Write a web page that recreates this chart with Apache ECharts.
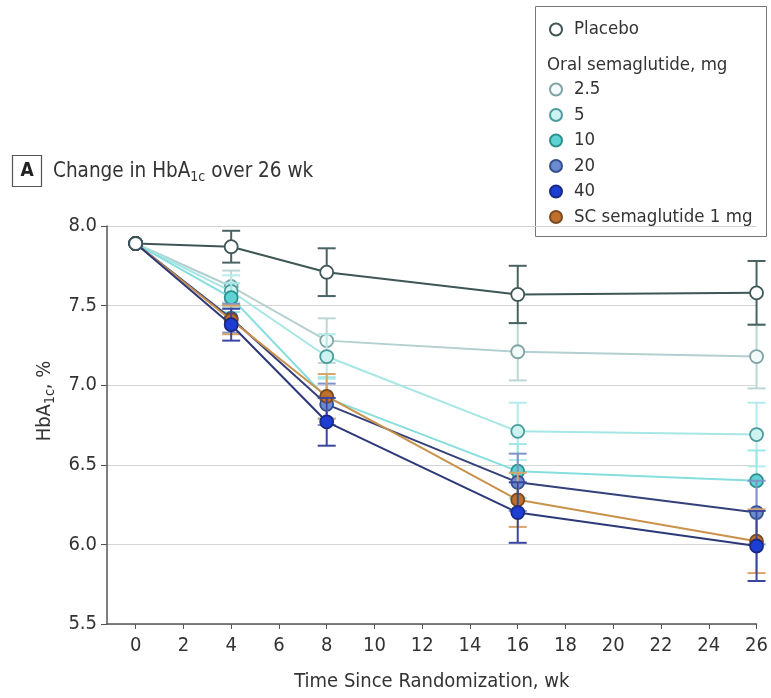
<!DOCTYPE html>
<html>
<head>
<meta charset="utf-8">
<script src="https://cdn.jsdelivr.net/npm/echarts@6/dist/echarts.min.js"></script>
<style>
  html, body { margin: 0; padding: 0; background: #fff; }
  #chart { width: 771px; height: 698px; }
</style>
</head>
<body>
<div id="chart"></div>
<script>
// weeks since randomization
const weeks = [0, 4, 8, 16, 26]
const xTicks = [0, 2, 4, 6, 8, 10, 12, 14, 16, 18, 20, 22, 24, 26]

// HbA1c (%) per group
const placebo = [7.89, 7.87, 7.71, 7.57, 7.58]
const oral2_5 = [7.89, 7.62, 7.28, 7.21, 7.18]
const oral5 = [7.89, 7.59, 7.18, 6.71, 6.69]
const oral10 = [7.89, 7.55, 6.92, 6.46, 6.40]
const oral20 = [7.89, 7.42, 6.88, 6.39, 6.20]
const oral40 = [7.89, 7.38, 6.77, 6.20, 5.99]
const scSema = [7.89, 7.41, 6.93, 6.28, 6.02]

// half width of the error bars
const placeboErr = [0, 0.10, 0.15, 0.18, 0.20]
const oral2_5Err = [0, 0.10, 0.14, 0.18, 0.20]
const oral5Err = [0, 0.10, 0.14, 0.18, 0.20]
const oral10Err = [0, 0.09, 0.13, 0.17, 0.19]
const oral20Err = [0, 0.09, 0.13, 0.18, 0.20]
const oral40Err = [0, 0.10, 0.15, 0.19, 0.22]
const scSemaErr = [0, 0.09, 0.14, 0.17, 0.20]

const FONT = "'Liberation Sans Narrow', 'DejaVu Sans Condensed', 'Roboto', sans-serif"

// drawing order: later entries sit on top, placebo last so the week 0 dot is white
const groups = [
  { name: '2.5', values: oral2_5, err: oral2_5Err, line: '#b3cfcf', fill: '#f2fafa', border: '#7fa3a3', bar: '#bcd6d6' },
  { name: '5', values: oral5, err: oral5Err, line: '#a6e6e4', fill: '#cdf3f1', border: '#4a9c9c', bar: '#b3ecea' },
  { name: '10', values: oral10, err: oral10Err, line: '#86dede', fill: '#5fd3d3', border: '#2f8f8f', bar: '#9fe6e6' },
  { name: '20', values: oral20, err: oral20Err, line: '#34407a', fill: '#6a8bcf', border: '#34508f', bar: '#7f93c8' },
  { name: 'SC semaglutide 1 mg', values: scSema, err: scSemaErr, line: '#c9914a', fill: '#c0702a', border: '#7a4a22', bar: '#d8a56a' },
  { name: '40', values: oral40, err: oral40Err, line: '#2c3878', fill: '#1c3ed4', border: '#1b2a80', bar: '#3a47a0' },
  { name: 'Placebo', values: placebo, err: placeboErr, line: '#3f5656', fill: '#ffffff', border: '#3f5656', bar: '#4a6262' }
]

function errorBar(params, api) {
  const x = api.value(0)
  const y = api.value(1)
  const e = api.value(2)
  if (!e) return null
  const top = api.coord([x, y + e])
  const bot = api.coord([x, y - e])
  const cap = 9
  const style = { stroke: api.visual('color'), lineWidth: 2 }
  return {
    type: 'group',
    children: [
      { type: 'line', shape: { x1: top[0], y1: top[1], x2: bot[0], y2: bot[1] }, style },
      { type: 'line', shape: { x1: top[0] - cap, y1: top[1], x2: top[0] + cap, y2: top[1] }, style },
      { type: 'line', shape: { x1: bot[0] - cap, y1: bot[1], x2: bot[0] + cap, y2: bot[1] }, style }
    ]
  }
}

const series = []
groups.forEach((g, gi) => {
  series.push({
    name: g.name + ' err',
    type: 'custom',
    renderItem: errorBar,
    itemStyle: { color: g.bar },
    data: weeks.map((w, i) => [w, g.values[i], g.err[i]]),
    encode: { x: 0, y: 1 },
    z: 2 + gi * 2,
    silent: true
  })
  series.push({
    name: g.name,
    type: 'line',
    data: weeks.map((w, i) => [w, g.values[i]]),
    symbol: 'circle',
    symbolSize: 13,
    showAllSymbol: true,
    lineStyle: { color: g.line, width: 2 },
    itemStyle: { color: g.fill, borderColor: g.border, borderWidth: 1.8 },
    z: 3 + gi * 2
  })
})

const legendText = { fontSize: 18.5, color: '#333', fontFamily: FONT, padding: [0, 0, 0, 7] }

const chart = echarts.init(document.getElementById('chart'))
chart.setOption({
  animation: false,
  backgroundColor: '#fff',
  textStyle: { fontFamily: FONT },
  grid: { left: 107, top: 226, width: 653, height: 398, containLabel: false },
  xAxis: {
    type: 'value',
    min: -1.2,
    max: 26,
    axisLine: { show: true, onZero: false, lineStyle: { color: '#555', width: 1.5 } },
    axisTick: { show: true, customValues: xTicks, length: 5, lineStyle: { color: '#555' } },
    axisLabel: { customValues: xTicks, color: '#333', fontSize: 20, margin: 12, fontFamily: FONT },
    splitLine: { show: false },
    name: 'Time Since Randomization, wk',
    nameLocation: 'middle',
    nameGap: 48,
    nameTextStyle: { color: '#333', fontSize: 20, fontFamily: FONT }
  },
  yAxis: {
    type: 'value',
    min: 5.5,
    max: 8,
    interval: 0.5,
    axisLine: { show: true, onZero: false, lineStyle: { color: '#555', width: 1.5 } },
    axisTick: { show: true, length: 6, lineStyle: { color: '#555' } },
    axisLabel: { color: '#333', fontSize: 20, margin: 10, fontFamily: FONT, formatter: v => v.toFixed(1) },
    splitLine: { show: true, lineStyle: { color: '#d4d4d4', width: 1 } }
  },
  legend: [
    {
      data: ['Placebo'],
      left: 544,
      top: 15,
      icon: 'circle',
      itemWidth: 12,
      itemHeight: 12,
      textStyle: legendText,
      selectedMode: false
    },
    {
      data: ['2.5', '5', '10', '20', '40', 'SC semaglutide 1 mg'],
      orient: 'vertical',
      left: 544,
      top: 75,
      icon: 'circle',
      itemWidth: 12,
      itemHeight: 12,
      itemGap: 6.5,
      textStyle: legendText,
      selectedMode: false
    }
  ],
  graphic: [
    { type: 'rect', shape: { x: 535.5, y: 6.5, width: 231, height: 230 }, style: { fill: 'none', stroke: '#777', lineWidth: 1 } },
    { type: 'text', x: 547, y: 65, style: { text: 'Oral semaglutide, mg', fontSize: 18.5, fill: '#333', fontFamily: FONT, verticalAlign: 'middle' } },
    { type: 'rect', shape: { x: 12.5, y: 155.5, width: 29, height: 31 }, style: { fill: '#fff', stroke: '#555', lineWidth: 1.2 } },
    { type: 'text', x: 27, y: 171, style: { text: 'A', fontSize: 19, fontWeight: 'bold', fill: '#222', fontFamily: FONT, align: 'center', verticalAlign: 'middle' } },
    {
      type: 'text', x: 53, y: 172,
      style: {
        text: 'Change in HbA{s|1c} over 26 wk',
        fontSize: 20.5, fill: '#333', fontFamily: FONT, verticalAlign: 'middle',
        rich: { s: { fontSize: 14, fill: '#333', fontFamily: FONT, padding: [11, 0, 0, 0] } }
      }
    },
    {
      type: 'text', x: 45, y: 401, rotation: Math.PI / 2,
      style: {
        text: 'HbA{s|1c}, %',
        fontSize: 20, fill: '#333', fontFamily: FONT, align: 'center', verticalAlign: 'middle',
        rich: { s: { fontSize: 14, fill: '#333', fontFamily: FONT, padding: [11, 0, 0, 0] } }
      }
    }
  ],
  series
})
</script>
</body>
</html>
